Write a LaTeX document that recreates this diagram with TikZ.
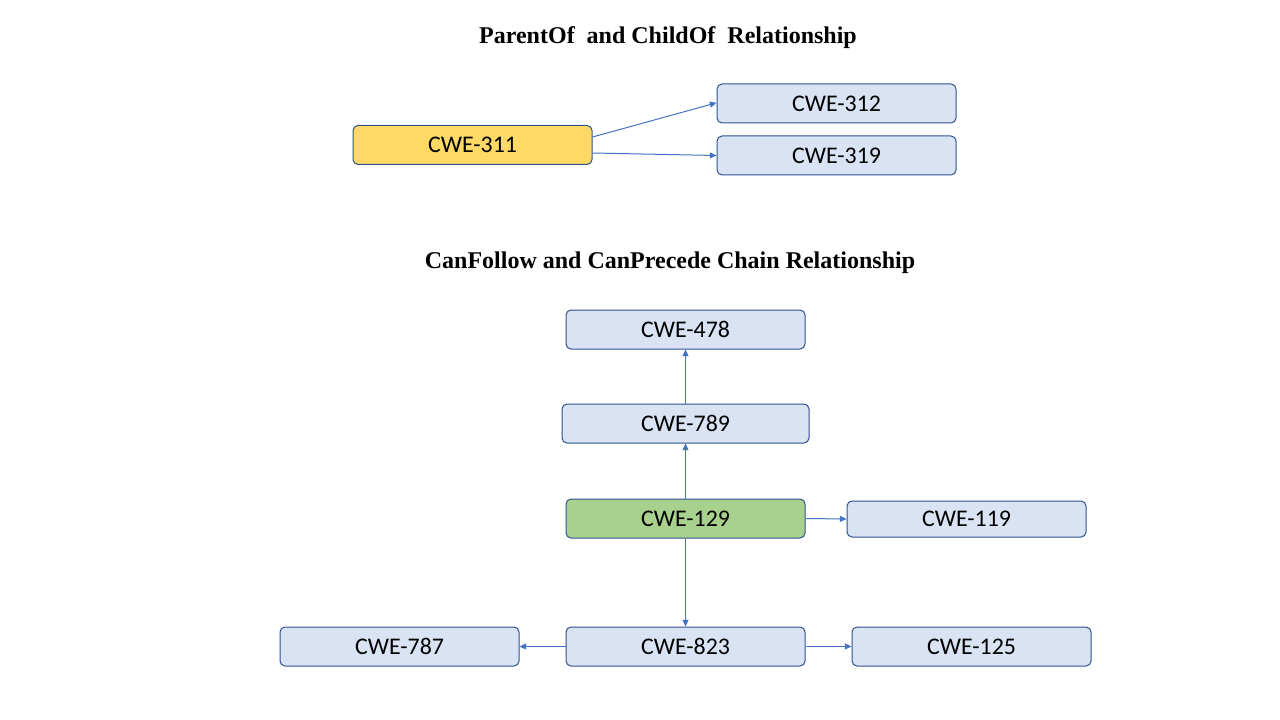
\documentclass[tikz,border=0pt]{standalone}
\usepackage{fontspec}
\setmainfont{Carlito}
\newfontfamily\titlefont{Liberation Serif}
\usetikzlibrary{arrows.meta}
\definecolor{boxfill}{HTML}{DAE3F3}
\definecolor{boxline}{HTML}{2F528F}
\definecolor{yel}{HTML}{FFD966}
\definecolor{grn}{HTML}{A9D18E}
\definecolor{arr}{HTML}{4472C4}
\tikzset{
  cwe/.style={draw=boxline, line width=0.75pt, fill=boxfill, rounded corners=3.75pt,
    minimum width=179.25pt, minimum height=29.25pt, inner sep=0pt,
    font=\fontsize{17.9}{20}\selectfont},
  heading/.style={font=\titlefont\bfseries\fontsize{18}{21}\selectfont, inner sep=0pt},
  link/.style={draw=arr, line width=0.75pt, -{Triangle[length=5pt,width=4.5pt]}}
}
\begin{document}
\begin{tikzpicture}[x=0.75pt,y=-0.75pt]
\useasboundingbox[fill=white] (0,0) rectangle (1280,720);
\node[heading] (t1) at (668,38) {ParentOf\ \ and ChildOf\ \ Relationship};
\node[heading] (t2) at (670,263) {CanFollow and CanPrecede Chain Relationship};

\node[cwe, fill=yel] (n311) at (472.5,145) {CWE-311};
\node[cwe] (n312) at (836.5,103.5) {CWE-312};
\node[cwe] (n319) at (836.5,155.5) {CWE-319};

\node[cwe] (n478) at (685.5,329.5) {CWE-478};
\node[cwe, minimum width=185.25pt] (n789) at (685.5,423.5) {CWE-789};
\node[cwe, fill=grn] (n129) at (685.5,518.5) {CWE-129};
\node[cwe, minimum height=27pt] (n119) at (966.5,519) {CWE-119};
\node[cwe] (n787) at (399.5,646.5) {CWE-787};
\node[cwe] (n823) at (685.5,646.5) {CWE-823};
\node[cwe] (n125) at (971.5,646.5) {CWE-125};

\draw[link] ([yshift=6pt]n311.east) -- ([yshift=0.5pt]n312.west);
\draw[link] ([yshift=-6pt]n311.east) -- (n319.west);
\draw[link] (n129.north) -- (n789.south);
\draw[link] (n789.north) -- (n478.south);
\draw[link] (n129.east) -- (n119.west);
\draw[link] (n129.south) -- (n823.north);
\draw[link] (n823.west) -- (n787.east);
\draw[link] (n823.east) -- (n125.west);
\end{tikzpicture}
\end{document}
